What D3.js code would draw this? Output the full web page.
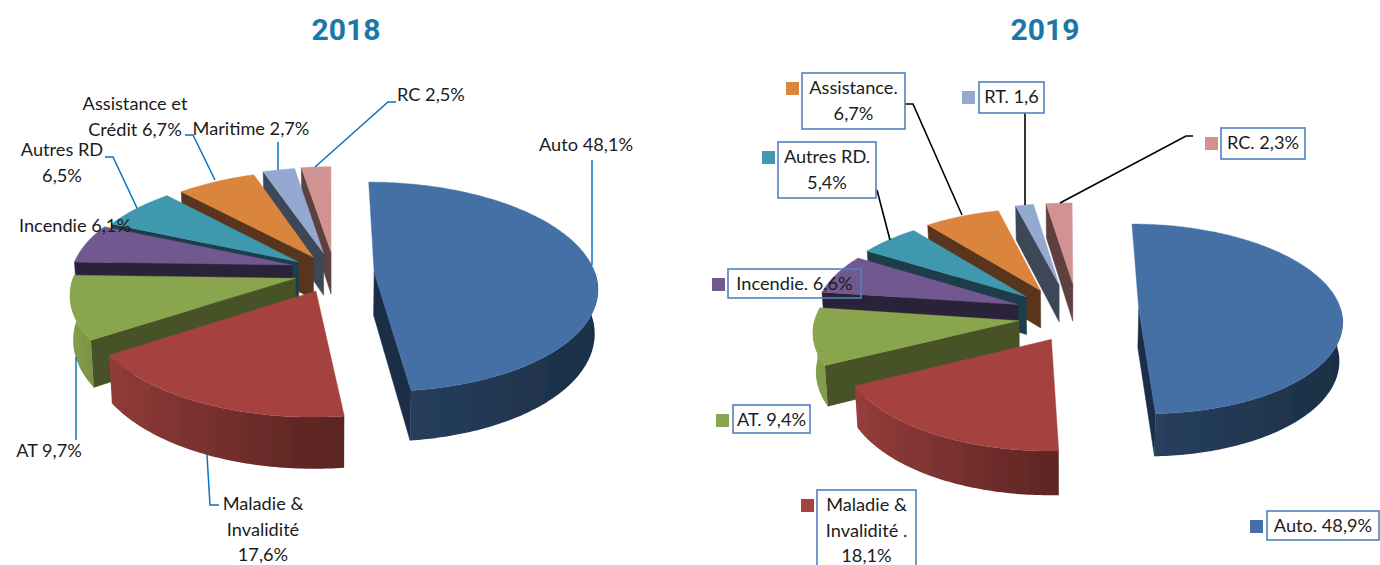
<!DOCTYPE html>
<html><head><meta charset="utf-8">
<style>
html,body{margin:0;padding:0;background:#fff;overflow:hidden}
svg{display:block}
text{font-family:Lato,"Open Sans",sans-serif;fill:#1c1c1c}
</style>
<script src="https://cdn.jsdelivr.net/npm/d3@7/dist/d3.min.js"></script>
</head><body><svg id="c" width="1380" height="565"></svg>
<script>
// ---- data ----
const categories = ["Auto","Maladie & Invalidité","AT","Incendie","Autres RD","Assistance","Maritime / RT","RC"];
const values2018 = [48.1,17.6,9.7,6.1,6.5,6.7,2.7,2.5];
const values2019 = [48.9,18.1,9.4,6.6,5.4,6.7,1.6,2.3];
const labels2018 = [["Auto 48,1%"],["Maladie &","Invalidité","17,6%"],["AT 9,7%"],["Incendie 6,1%"],["Autres RD","6,5%"],["Assistance et","Crédit 6,7%"],["Maritime 2,7%"],["RC 2,5%"]];
const labels2019 = [["Auto. 48,9%"],["Maladie &","Invalidité .","18,1%"],["AT. 9,4%"],["Incendie. 6,6%"],["Autres RD.","5,4%"],["Assistance.","6,7%"],["RT. 1,6"],["RC. 2,3%"]];
const titles = ["2018","2019"];

// ---- style ----
const topColors  = ["#4470A6","#A54340","#89A54D","#71588F","#4198AF","#DB843D","#93A9CF","#D19392"];
const wallColors = ["#1B2F47","#5A2523","#465325","#2C2038","#1B3E48","#59351A","#3C4658","#5D4040"];
// slice explosion, in pie-radius units (sideways, into the depth)
const explodeU2018 = [.2,-.062,-.155,-.175,-.145,-.077,-.03,.005];
const explodeV2018 = [-.02,-.2,-.08,.05,.08,.127,.167,.18];
const explodeU2019 = [.365,-.065,-.225,-.235,-.195,-.124,-.03,.04];
const explodeV2019 = [-.1,-.41,-.22,-.05,.036,.105,.17,.18];
const view2018 = {cx:330,cy:270,A:220,B:102,p:.14,H:43};
const view2019 = {cx:1065,cy:300,A:200,B:92,p:.1,H:38};

// ---- annotation layout: [cx, first baseline]
const place2018 = [[586,151],[263,510],[49,457],[75,232],[62,156],[135,110],[251,135],[431,101]];
const leaders2018 = [
 [[592,160],[592,265]],
 [[219,505],[210,505],[207,455]],
 [[76,440],[76,357]],
 [],
 [[105,157],[113,157],[137,208]],
 [[185,135],[193,135],[215,180]],
 [[278,142],[278,170]],
 [[396,102],[388,102],[315,167]]
];
// box: [x0,y0,x1,y1], swatch x
const boxes2019 = [[1267,511,1379,540],[817,490,916,580],[733,405,810,433],[728,269,861,298],[778,142,876,198],[802,73,905,129],[979,82,1044,113],[1221,128,1305,159]];
const swatchX2019 = [1250,801,716,712,762,786,962,1205];
const leaders2019 = [
 [],[],[],[],
 [[877,190],[890,240]],
 [[905,104],[913,104],[962,215]],
 [[1025,113],[1025,205]],
 [[1193,136],[1186,136],[1060,203]]
];

const svg = d3.select("#c");
const defs = svg.append("defs");
defs.append("filter").attr("id","soft").attr("x","-5%").attr("y","-5%").attr("width","110%").attr("height","110%")
  .append("feGaussianBlur").attr("stdDeviation",0.45);

const line = d3.line();
const shade = d3.scaleLinear().domain([-1,-.8,0,1]).range([1,.87,.57,.41]);
let gid = 0;

function drawPie(values, eu, ev, view){
  const g = svg.append("g").attr("filter","url(#soft)");
  const arcs = d3.pie().sort(null).value(d=>d)(values);
  const proj = (u,v,z)=>{
    const s = 1/(1+view.p*v), k = 1-0.012*z;
    return [view.cx+view.A*u*s*k, view.cy-view.B*v*s+view.H*s*z];
  };
  const items = arcs.map((a,i)=>({i,a,m:(a.startAngle+a.endAngle)/2,ou:eu[i],ov:ev[i]}))
    .sort((x,y)=>d3.descending(Math.cos(x.m),Math.cos(y.m)));

  items.forEach(d=>{
    const {i,a,ou,ov}=d;
    const n=Math.max(6,Math.ceil((a.endAngle-a.startAngle)*60));
    const ang=d3.range(0,n+1).map(t=>a.startAngle+(a.endAngle-a.startAngle)*t/n);
    const rimAt=(t,z)=>proj(ou+Math.sin(t),ov+Math.cos(t),z);
    const tip=z=>proj(ou,ov,z);
    // radial walls that face the viewer
    if(Math.sin(a.startAngle)<-1e-6){
      g.append("path").attr("d",line([tip(0),rimAt(a.startAngle,0),rimAt(a.startAngle,1),tip(1)])+"Z")
       .attr("fill",wallColors[i]).attr("stroke",wallColors[i]).attr("stroke-width",.5);
    }
    if(Math.sin(a.endAngle)>1e-6){
      g.append("path").attr("d",line([tip(0),rimAt(a.endAngle,0),rimAt(a.endAngle,1),tip(1)])+"Z")
       .attr("fill",wallColors[i]).attr("stroke",wallColors[i]).attr("stroke-width",.5);
    }
    // front part of the outer wall, with a left-to-right light falloff
    const front=ang.filter(t=>Math.cos(t)<0.02);
    if(front.length>1){
      const t0=front.map(t=>rimAt(t,0)), t1=front.map(t=>rimAt(t,1));
      const xs=t0.map(p=>p[0]), x0=d3.min(xs), x1=d3.max(xs);
      const id="g"+(gid++);
      const grad=defs.append("linearGradient").attr("id",id).attr("gradientUnits","userSpaceOnUse")
        .attr("x1",x0).attr("x2",x1).attr("y1",0).attr("y2",0);
      front.map((t,j)=>({o:(xs[j]-x0)/(x1-x0),b:shade(Math.sin(t))})).sort((p,q)=>p.o-q.o)
        .forEach(st=>grad.append("stop").attr("offset",st.o).attr("stop-color",d3.interpolateRgb("#000",topColors[i])(st.b)));
      g.append("path").attr("d",line(t0.concat(t1.slice().reverse()))+"Z").attr("fill",`url(#${id})`);
    }
    // top face
    g.append("path").attr("d",line([tip(0)].concat(ang.map(t=>rimAt(t,0))))+"Z")
     .attr("fill",topColors[i]).attr("stroke",topColors[i]).attr("stroke-width",.4);
  });
}

function multiline(x,y,lines,lh){
  const t=svg.append("text").attr("text-anchor","middle").attr("font-size",18.2);
  lines.forEach((l,j)=>t.append("tspan").attr("x",x).attr("y",y+j*lh).text(l));
}
function drawLeaders(list,color,w){
  list.filter(l=>l.length).forEach(l=>svg.append("path").attr("d",line(l)).attr("fill","none").attr("stroke",color).attr("stroke-width",w));
}

drawPie(values2018,explodeU2018,explodeV2018,view2018);
drawPie(values2019,explodeU2019,explodeV2019,view2019);

// titles
[[346,titles[0]],[1045,titles[1]]].forEach(([x,t])=>{
  svg.append("text").attr("x",x).attr("y",40).attr("text-anchor","middle")
    .style("font-family","Roboto,sans-serif").style("font-weight",700).style("fill","#1A77A8")
    .attr("font-size",30).text(t);
});

// 2018 annotations
drawLeaders(leaders2018,"#0A72C0",1.5);
labels2018.forEach((l,i)=>multiline(place2018[i][0],place2018[i][1],l,25.5));

// 2019 annotations
drawLeaders(leaders2019,"#000",1.6);
labels2019.forEach((l,i)=>{
  const b=boxes2019[i];
  svg.append("rect").attr("x",b[0]).attr("y",b[1]).attr("width",b[2]-b[0]).attr("height",b[3]-b[1])
    .attr("fill","none").attr("stroke","#4F81BD").attr("stroke-width",1.6);
  svg.append("rect").attr("x",swatchX2019[i]).attr("y",b[1]+9).attr("width",13).attr("height",13).attr("fill",topColors[i]);
  multiline((b[0]+b[2])/2,b[1]+21,l,25.5);
});
</script></body></html>
